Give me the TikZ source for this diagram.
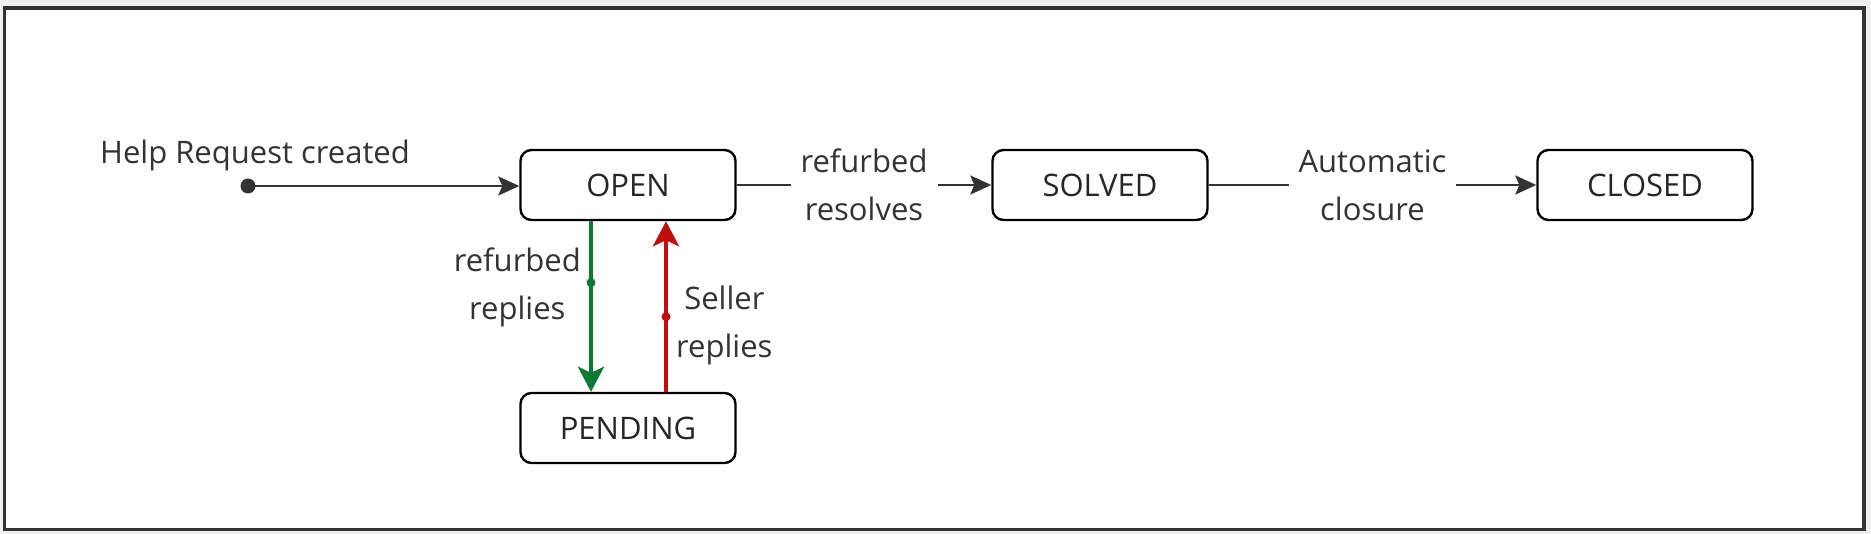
\documentclass[tikz,border=0pt]{standalone}
\usepackage{fontspec}
\setmainfont{Open Sans}
\usetikzlibrary{arrows.meta}
\definecolor{ink}{HTML}{333333}
\definecolor{grn}{HTML}{0B7A32}
\definecolor{rd}{HTML}{C40C0C}
\begin{document}
\begin{tikzpicture}[x=1pt,y=-1pt,
  state/.style={draw=black,line width=2.4pt,rounded corners=11pt,minimum width=215pt,minimum height=70pt,inner sep=0pt,font=\fontsize{31}{38}\selectfont,text=black!85},
  lbl/.style={font=\fontsize{31}{48}\selectfont,text=ink,align=center,inner sep=2pt},
  conn/.style={draw=ink,line width=2.4pt,-{Stealth[length=21pt,width=19pt,inset=4pt]}},
  vconn/.style={line width=4pt,-{Stealth[length=25pt,width=26pt,inset=6pt]}}]
\useasboundingbox (0,0) rectangle (1871,534);
\fill[black!6] (0,0) rectangle (1871,534);
\draw[fill=white,draw=ink,line width=3.4pt] (4.5,8) rectangle (1864,529.5);
\node[state] (open) at (628,185) {OPEN};
\node[state] (solved) at (1100,185) {SOLVED};
\node[state] (closed) at (1645,185) {CLOSED};
\node[state] (pending) at (628,428) {PENDING};
\fill[ink] (248,186) circle (7.5);
\coordinate (init) at (248,186);
\node[lbl] (hrc) at (255,155) {Help Request created};
\draw[conn] (init) -- (open.west |- init);
\draw[conn] (open.east) -- node[lbl,fill=white,inner xsep=10pt] (rr) {refurbed\\resolves} (solved.west);
\draw[conn] (solved.east) -- node[lbl,fill=white,inner xsep=10pt] (ac) {Automatic\\closure} (closed.west);
\coordinate (gtop) at (591,220);
\coordinate (gbot) at (591,394);
\coordinate (rbot) at (666,394);
\coordinate (rtop) at (666,220);
\draw[vconn,draw=grn] (open.south -| gtop) -- coordinate[pos=0.36] (gd) (pending.north -| gbot);
\fill[grn] (gd) circle (4.5);
\node[lbl,anchor=east] (grl) at ([xshift=-8pt,yshift=-5pt]gd) {refurbed\\replies};
\draw[vconn,draw=rd] (pending.north -| rbot) -- coordinate[pos=0.44] (rdd) (open.south -| rtop);
\fill[rd] (rdd) circle (4.5);
\node[lbl,anchor=west] (rdl) at ([xshift=8pt,yshift=-9pt]rdd) {Seller\\replies};
\end{tikzpicture}
\end{document}
